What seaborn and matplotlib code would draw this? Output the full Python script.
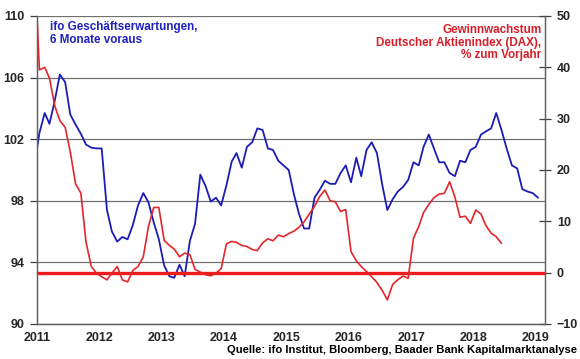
import numpy as np
import pandas as pd
import seaborn as sns
import matplotlib.pyplot as plt

# ifo business expectations, 6 months ahead (left axis), monthly from Dec 2010
IFO = [
    100.2, 102.4, 103.7, 103.0, 104.5, 106.2, 105.7, 103.6, 102.95, 102.35,
    101.65, 101.45, 101.4, 101.4, 97.4, 96.0, 95.35, 95.65, 95.5, 96.4,
    97.7, 98.5, 97.9, 96.6, 95.5, 93.8, 93.1, 93.0, 93.85, 93.1,
    95.4, 96.5, 99.7, 98.95, 97.95, 98.2, 97.7, 99.0, 100.55, 101.1,
    100.15, 101.5, 101.8, 102.7, 102.6, 101.4, 101.3, 100.6, 100.3, 100.0,
    98.4, 97.2, 96.2, 96.2, 98.2, 98.7, 99.3, 99.1, 99.1, 99.8,
    100.3, 99.2, 100.8, 99.6, 101.3, 101.8, 101.1, 99.1, 97.4, 98.1,
    98.6, 98.9, 99.35, 100.5, 100.3, 101.5, 102.3, 101.4, 100.5, 100.5,
    99.8, 99.6, 100.6, 100.5, 101.3, 101.5, 102.3, 102.5, 102.7, 103.7,
    102.6, 101.4, 100.3, 100.1, 98.75, 98.6, 98.5, 98.2,
]

# DAX earnings growth, % y/y (right axis), monthly from Dec 2010
DAX = [
    63.0, 39.5, 40.0, 37.9, 32.5, 29.6, 28.3, 23.5, 17.3, 15.5,
    6.0, 1.2, -0.1, -0.8, -1.4, -0.1, 1.2, -1.4, -1.8, 0.4,
    1.2, 3.1, 9.0, 12.7, 12.7, 6.3, 5.3, 4.6, 3.1, 3.8,
    3.5, 0.65, 0.1, -0.4, -0.6, -0.1, 0.8, 5.6, 6.1, 5.9,
    5.3, 5.1, 4.5, 4.3, 5.8, 6.6, 6.2, 7.3, 7.0, 7.6,
    8.1, 8.8, 9.9, 11.4, 12.9, 14.8, 16.1, 14.0, 13.8, 11.9,
    12.3, 4.1, 2.3, 1.2, 0.2, -0.8, -1.9, -3.4, -5.3, -2.3,
    -1.4, -0.65, -1.1, 6.7, 9.0, 11.7, 13.3, 14.6, 15.3, 15.45,
    17.7, 14.7, 10.8, 11.0, 9.6, 12.2, 11.4, 9.2, 7.7, 7.0,
    5.7,
]

YEARS = list(range(2011, 2020))
LEFT_TICKS = [90, 94, 98, 102, 106, 110]
RIGHT_TICKS = [-10, 0, 10, 20, 30, 40, 50]

BLUE = '#1c1cb8'
RED = '#e3262b'

dates = pd.date_range('2010-12-01', periods=len(IFO), freq='MS') + pd.Timedelta(days=14)
df_ifo = pd.DataFrame({'date': dates, 'value': IFO})
df_dax = pd.DataFrame({'date': dates[:len(DAX)], 'value': DAX})

sns.set_style('white')
plt.rcParams['font.family'] = ['Liberation Sans', 'DejaVu Sans']
plt.rcParams['font.weight'] = 'bold'

fig = plt.figure(figsize=(5.8, 3.59), dpi=100)
ax = fig.add_axes([0.0638, 0.0975, 0.8759, 0.858])
ax2 = ax.twinx()

sns.lineplot(data=df_ifo, x='date', y='value', ax=ax, color=BLUE, linewidth=1.3)
sns.lineplot(data=df_dax, x='date', y='value', ax=ax2, color=RED, linewidth=1.2)
ax2.axhline(0, color='#ee1c1c', linewidth=2.4, zorder=1)

ax.set_xlim(pd.Timestamp('2011-01-01'), pd.Timestamp('2019-02-25'))
ax.set_ylim(90, 110)
ax2.set_ylim(-10, 50)

ax.set_xticks([pd.Timestamp(f'{y}-01-01') for y in YEARS])
ax.set_xticklabels([str(y) for y in YEARS])
ax.set_yticks(LEFT_TICKS)
ax2.set_yticks(RIGHT_TICKS)

ax.grid(axis='y', color='#707070', linewidth=0.9)
ax.grid(axis='x', visible=False)
ax.set_xlabel('')
ax.set_ylabel('')
ax2.set_ylabel('')

for a in (ax, ax2):
    a.spines['top'].set_visible(False)
    for s in ('left', 'right', 'bottom'):
        a.spines[s].set_color('#606060')
        a.spines[s].set_linewidth(0.9)

ax.tick_params(axis='y', direction='out', length=5, width=0.9, color='#404040',
               labelsize=9, pad=4)
ax.tick_params(axis='x', direction='out', length=4, width=0.9, color='#404040',
               labelsize=9, pad=2)
ax2.tick_params(axis='y', direction='inout', length=9, width=0.9, color='#404040',
                labelsize=9, pad=4)
for lab in ax.get_xticklabels() + ax.get_yticklabels() + ax2.get_yticklabels():
    lab.set_fontweight('bold')

ax.text(0.025, 0.985, 'ifo Geschäftserwartungen,\n6 Monate voraus', transform=ax.transAxes,
        ha='left', va='top', color='#2020c0', fontsize=8.4, fontweight='bold',
        linespacing=1.2)
ax.text(0.993, 0.975, 'Gewinnwachstum\nDeutscher Aktienindex (DAX),\n% zum Vorjahr',
        transform=ax.transAxes, ha='right', va='top', color='#d81e28', fontsize=8.4,
        fontweight='bold', linespacing=1.1, multialignment='right')
fig.text(0.995, 0.024, 'Quelle: ifo Institut, Bloomberg, Baader Bank Kapitalmarktanalyse',
         ha='right', va='center', fontsize=8.1, fontweight='bold', color='black')

fig.savefig('out.png', dpi=100)
